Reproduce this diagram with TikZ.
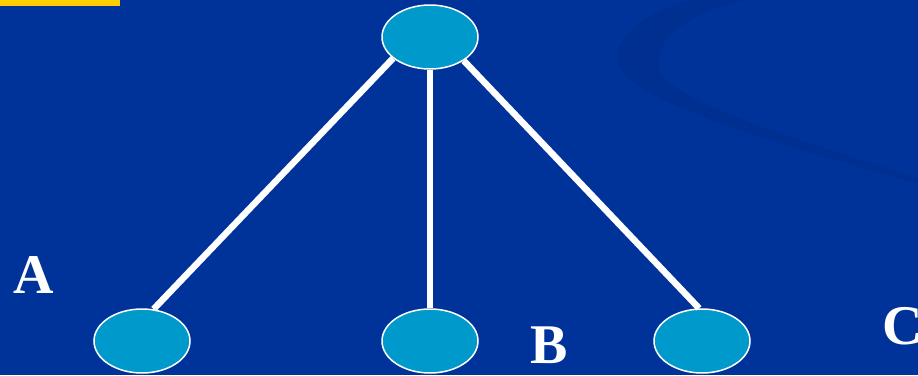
\documentclass[tikz,border=0pt]{standalone}
\usepackage{fontspec}
\setmainfont{Liberation Serif}
\usetikzlibrary{shapes.geometric}
\definecolor{slideblue}{RGB}{0,51,153}
\definecolor{swirlblue}{RGB}{0,47,146}
\definecolor{nodecyan}{RGB}{0,153,204}
\definecolor{baryellow}{RGB}{255,204,0}

\begin{document}
\begin{tikzpicture}[
  x=1pt, y=-1pt,
  vertex/.style={draw=white, line width=1.5pt, fill=nodecyan, ellipse, inner sep=0pt, minimum width=96pt, minimum height=64pt},
  branch/.style={draw=white, line width=6.5pt},
  letter/.style={text=white, font=\fontsize{56}{56}\selectfont\bfseries, inner sep=0pt}
]
\clip (0,0) rectangle (918,375);
\fill[slideblue] (0,0) rectangle (918,375);
\fill[baryellow] (0,0) rectangle (120,6);
% faint swirl in the corner
\fill[swirlblue] (692,0) .. controls (635,15) and (605,45) .. (622,72)
  .. controls (655,110) and (800,150) .. (918,184) -- (918,178)
  .. controls (800,140) and (680,105) .. (660,72)
  .. controls (650,40) and (690,12) .. (745,0) -- cycle;

\node[vertex] (root) at (430,37) {};
\node[vertex] (left) at (142,341) {};
\node[vertex] (mid) at (430,341) {};
\node[vertex] (right) at (702,341) {};

\draw[branch] (root.210) -- (left.70);
\draw[branch] (root.south) -- (mid.north);
\draw[branch] (root.325) -- (right.95);

\node[letter] (la) at (33.5,275) {A};
\node[letter] (lb) at (549,345) {B};
\node[letter] (lc) at (903,326) {C};
\end{tikzpicture}
\end{document}
